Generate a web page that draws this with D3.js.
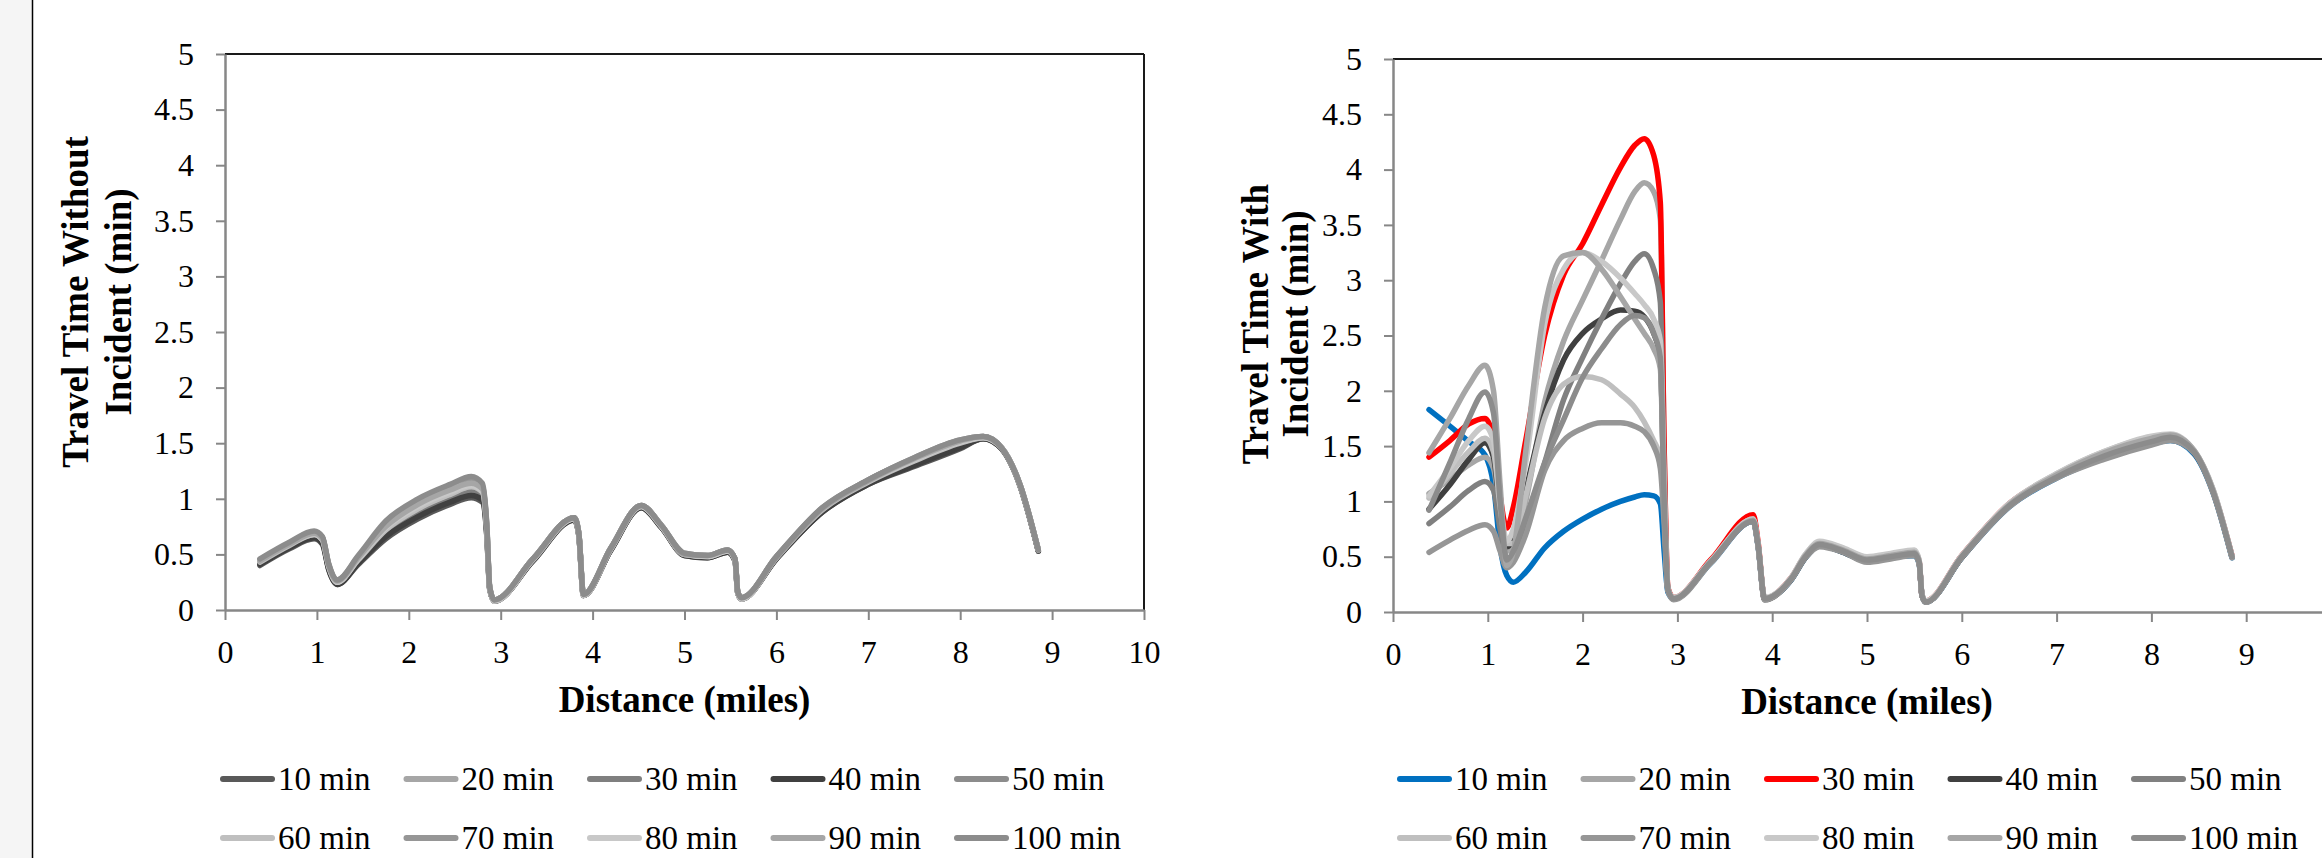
<!DOCTYPE html>
<html>
<head>
<meta charset="utf-8">
<script src="https://cdn.jsdelivr.net/npm/d3@7"></script>
<style>
  html, body { margin: 0; padding: 0; background: #ffffff; }
  svg { display: block; font-family: "Liberation Serif", "Times New Roman", serif; }
</style>
</head>
<body>
<svg id="chart" width="2322" height="858"></svg>
<script>
// ---- data -------------------------------------------------------------
const seriesNames = ["10 min", "20 min", "30 min", "40 min", "50 min",
                     "60 min", "70 min", "80 min", "90 min", "100 min"];
const yTickValues = [0, 0.5, 1, 1.5, 2, 2.5, 3, 3.5, 4, 4.5, 5];
const xTickValues = [0, 1, 2, 3, 4, 5, 6, 7, 8, 9, 10];

// distance samples (miles) for the no-incident runs
const distNoIncident = [0.38, 0.7, 0.97, 1.06, 1.13, 1.22, 1.45, 1.75, 2.1, 2.45, 2.68, 2.8, 2.85,
  2.88, 2.93, 3.35, 3.80, 3.85, 3.90, 4.2, 4.53, 4.75, 5.0, 5.25, 5.47, 5.55, 5.58, 5.62,
  6.0, 6.5, 7.0, 7.5, 8.0, 8.25, 8.45, 8.65, 8.85];

// travel time without incident (min)
const noIncident10 = [0.40,0.55,0.64,0.59,0.36,0.23,0.41,0.64,0.82,0.95,1.01,0.97,0.65, 0.19,0.08,0.44,0.81,0.67,0.13,0.54,0.92,0.74,0.49,0.47,0.52,0.44,0.15,0.10, 0.46,0.88,1.13,1.29,1.45,1.54,1.45,1.12,0.53];
const noIncident20 = [0.42,0.57,0.67,0.62,0.38,0.25,0.44,0.70,0.89,1.02,1.09,1.04,0.69, 0.20,0.08,0.45,0.82,0.68,0.13,0.55,0.93,0.75,0.50,0.48,0.53,0.45,0.15,0.10, 0.47,0.90,1.14,1.32,1.48,1.55,1.45,1.12,0.53];
const noIncident30 = [0.42,0.57,0.66,0.61,0.37,0.24,0.43,0.68,0.87,0.99,1.06,1.01,0.68, 0.20,0.08,0.45,0.82,0.68,0.13,0.55,0.93,0.75,0.50,0.48,0.53,0.45,0.15,0.10, 0.46,0.89,1.14,1.31,1.47,1.54,1.45,1.12,0.53];
const noIncident40 = [0.41,0.56,0.65,0.60,0.36,0.23,0.42,0.66,0.84,0.97,1.03,0.99,0.66, 0.19,0.08,0.44,0.81,0.67,0.13,0.54,0.92,0.74,0.49,0.47,0.52,0.44,0.15,0.10, 0.46,0.88,1.13,1.30,1.46,1.54,1.45,1.12,0.53];
const noIncident50 = [0.45,0.60,0.70,0.65,0.40,0.26,0.47,0.77,0.96,1.09,1.16,1.11,0.73, 0.20,0.09,0.46,0.83,0.69,0.14,0.56,0.94,0.76,0.50,0.49,0.54,0.46,0.16,0.11, 0.48,0.91,1.17,1.36,1.52,1.56,1.46,1.13,0.54];
const noIncident60 = [0.43,0.58,0.68,0.63,0.39,0.25,0.45,0.72,0.91,1.04,1.11,1.06,0.70, 0.20,0.08,0.45,0.82,0.68,0.13,0.55,0.93,0.75,0.50,0.48,0.53,0.45,0.15,0.10, 0.47,0.90,1.15,1.34,1.50,1.55,1.46,1.12,0.54];
const noIncident70 = [0.45,0.60,0.70,0.65,0.41,0.27,0.48,0.78,0.98,1.11,1.18,1.12,0.74, 0.21,0.09,0.46,0.83,0.69,0.14,0.56,0.94,0.76,0.51,0.49,0.54,0.46,0.16,0.11, 0.48,0.92,1.17,1.37,1.53,1.56,1.46,1.13,0.54];
const noIncident80 = [0.44,0.59,0.68,0.63,0.39,0.25,0.46,0.74,0.93,1.06,1.12,1.07,0.71, 0.20,0.08,0.45,0.82,0.68,0.13,0.55,0.93,0.75,0.50,0.48,0.53,0.45,0.15,0.10, 0.47,0.91,1.16,1.35,1.51,1.55,1.46,1.13,0.54];
const noIncident90 = [0.44,0.59,0.69,0.64,0.40,0.26,0.47,0.75,0.95,1.08,1.14,1.09,0.72, 0.20,0.09,0.46,0.83,0.69,0.14,0.56,0.94,0.76,0.50,0.49,0.54,0.46,0.16,0.11, 0.47,0.91,1.16,1.36,1.52,1.56,1.46,1.13,0.54];
const noIncident100 = [0.46,0.61,0.71,0.66,0.41,0.27,0.49,0.80,1.00,1.13,1.20,1.14,0.75, 0.21,0.09,0.46,0.83,0.69,0.14,0.56,0.94,0.76,0.51,0.49,0.54,0.46,0.16,0.11, 0.48,0.92,1.17,1.37,1.53,1.56,1.46,1.13,0.54];

// distance samples (miles) for the incident runs
const distWithIncident = [0.38, 0.6, 0.8, 0.97, 1.06, 1.13, 1.2, 1.27, 1.4, 1.6, 1.8, 2.0, 2.2, 2.4,
  2.55, 2.65, 2.75, 2.82, 2.86, 2.9, 2.96, 3.35, 3.80, 3.85, 3.92, 4.2, 4.35, 4.5, 4.75, 5.0,
  5.25, 5.5, 5.55, 5.58, 5.62, 6.0, 6.5, 7.0, 7.5, 8.0, 8.2, 8.45, 8.65, 8.85];

// travel time with incident (min), by incident duration
const withIncident10 = [1.83,1.68,1.54,1.42,1.15,0.59,0.33,0.27,0.36,0.58,0.73,0.84,0.93,1.00,1.04,1.06,1.05,0.98,0.55, 0.18,0.12,0.44,0.82,0.60,0.12,0.29,0.49,0.60,0.54,0.46,0.49,0.51,0.44,0.15,0.09,0.49,0.95,1.21,1.39,1.52,1.55,1.43,1.08,0.49];
const withIncident20 = [1.07,1.20,1.33,1.40,1.30,0.90,0.55,0.60,1.00,1.90,2.45,2.82,3.18,3.55,3.80,3.88,3.80,3.55,1.50, 0.20,0.12,0.45,0.84,0.62,0.12,0.30,0.50,0.61,0.55,0.47,0.50,0.53,0.45,0.15,0.09,0.50,0.97,1.23,1.42,1.55,1.58,1.45,1.10,0.50];
const withIncident30 = [1.40,1.55,1.70,1.75,1.58,1.05,0.76,0.95,1.55,2.50,3.05,3.33,3.68,4.02,4.22,4.28,4.13,3.70,1.50, 0.22,0.13,0.47,0.88,0.64,0.12,0.31,0.51,0.62,0.56,0.48,0.51,0.54,0.46,0.15,0.10,0.51,0.98,1.24,1.43,1.56,1.59,1.45,1.10,0.51];
const withIncident40 = [0.93,1.15,1.38,1.53,1.40,0.90,0.59,0.65,1.10,1.80,2.28,2.52,2.65,2.73,2.72,2.67,2.52,2.30,1.00, 0.20,0.12,0.45,0.83,0.61,0.11,0.29,0.49,0.60,0.54,0.46,0.49,0.52,0.45,0.15,0.09,0.49,0.96,1.22,1.40,1.53,1.57,1.44,1.09,0.50];
const withIncident50 = [0.80,0.95,1.10,1.18,1.10,0.75,0.48,0.50,0.80,1.35,1.92,2.30,2.65,2.97,3.17,3.24,3.10,2.80,1.20, 0.21,0.12,0.45,0.83,0.61,0.12,0.30,0.50,0.61,0.55,0.47,0.50,0.53,0.45,0.15,0.09,0.50,0.97,1.23,1.42,1.56,1.59,1.45,1.10,0.50];
const withIncident60 = [1.03,1.25,1.45,1.57,1.45,0.95,0.62,0.62,1.05,1.75,2.06,2.13,2.10,1.97,1.85,1.72,1.55,1.40,0.90, 0.20,0.13,0.46,0.84,0.62,0.13,0.31,0.52,0.63,0.57,0.49,0.52,0.55,0.47,0.16,0.10,0.51,0.98,1.25,1.45,1.58,1.60,1.46,1.11,0.51];
const withIncident70 = [0.54,0.65,0.74,0.79,0.73,0.55,0.40,0.45,0.70,1.28,1.55,1.66,1.71,1.71,1.68,1.63,1.50,1.30,0.80, 0.19,0.11,0.44,0.82,0.60,0.11,0.29,0.49,0.59,0.54,0.45,0.48,0.51,0.44,0.15,0.09,0.49,0.95,1.21,1.38,1.51,1.55,1.44,1.08,0.49];
const withIncident80 = [1.05,1.30,1.55,1.68,1.55,1.00,0.64,0.75,1.35,2.60,3.10,3.25,3.17,3.02,2.88,2.78,2.65,2.45,1.20, 0.21,0.13,0.46,0.84,0.62,0.13,0.31,0.52,0.64,0.58,0.50,0.53,0.56,0.47,0.16,0.10,0.51,0.98,1.25,1.45,1.59,1.61,1.46,1.11,0.51];
const withIncident90 = [1.44,1.75,2.05,2.23,2.00,1.15,0.42,0.55,1.45,2.75,3.22,3.25,3.10,2.85,2.65,2.52,2.38,2.20,1.00, 0.20,0.12,0.45,0.83,0.61,0.12,0.30,0.51,0.62,0.56,0.48,0.51,0.54,0.46,0.15,0.09,0.50,0.97,1.24,1.44,1.57,1.60,1.46,1.10,0.50];
const withIncident100 = [0.92,1.35,1.75,1.99,1.80,1.00,0.47,0.55,0.85,1.35,1.74,2.12,2.38,2.60,2.68,2.66,2.52,2.30,1.00, 0.20,0.12,0.45,0.82,0.61,0.12,0.30,0.50,0.61,0.55,0.47,0.50,0.53,0.45,0.15,0.09,0.50,0.96,1.22,1.41,1.54,1.58,1.45,1.09,0.50];

const noIncidentColors = ["#595959", "#a6a6a6", "#7f7f7f", "#404040", "#8c8c8c",
                          "#bfbfbf", "#969696", "#c8c8c8", "#a6a6a6", "#8c8c8c"];
const withIncidentColors = ["#0070c0", "#a6a6a6", "#ff0000", "#404040", "#808080",
                            "#bfbfbf", "#969696", "#c8c8c8", "#a6a6a6", "#8c8c8c"];

const noIncidentSeries = [noIncident10, noIncident20, noIncident30, noIncident40, noIncident50,
                          noIncident60, noIncident70, noIncident80, noIncident90, noIncident100];
const withIncidentSeries = [withIncident10, withIncident20, withIncident30, withIncident40, withIncident50,
                            withIncident60, withIncident70, withIncident80, withIncident90, withIncident100];

// ---- drawing ----------------------------------------------------------
const W = 2322;
const svg = d3.select("#chart");
const FONT_TICK = 32, FONT_TITLE = 37, FONT_LEGEND = 33;

// page margin strip on the far left
svg.append("rect").attr("x", 0).attr("y", 0).attr("width", 32).attr("height", 858).attr("fill", "#f5f5f5");
svg.append("line").attr("x1", 32.5).attr("x2", 32.5).attr("y1", 0).attr("y2", 858)
  .attr("stroke", "#000").attr("stroke-width", 1.5);

function drawPanel(p) {
  const x = d3.scaleLinear().domain([0, 10]).range([p.left, p.right]);
  const y = d3.scaleLinear().domain([0, 5]).range([p.bottom, p.top]);
  const g = svg.append("g");

  // plot frame (top and right edges)
  g.append("line").attr("x1", p.left).attr("x2", p.right).attr("y1", p.top).attr("y2", p.top)
    .attr("stroke", "#1a1a1a").attr("stroke-width", 2);
  g.append("line").attr("x1", p.right).attr("x2", p.right).attr("y1", p.top).attr("y2", p.bottom)
    .attr("stroke", "#1a1a1a").attr("stroke-width", 2);

  // series lines
  const line = d3.line()
    .x(d => x(d[0])).y(d => y(d[1]))
    .curve(d3.curveMonotoneX);
  p.series.forEach((vals, i) => {
    const pts = p.dist.map((dx, j) => [dx, vals[j]]);
    g.append("path").datum(pts)
      .attr("d", line)
      .attr("fill", "none")
      .attr("stroke", p.colors[i])
      .attr("stroke-width", 5.5)
      .attr("stroke-linejoin", "round")
      .attr("stroke-linecap", "round");
  });

  // axes (only label the ticks that fall inside the page)
  const visibleX = xTickValues.filter(v => x(v) <= W);
  const yAxis = d3.axisLeft(y).tickValues(yTickValues).tickSize(9).tickSizeOuter(0).tickPadding(22)
    .tickFormat(d3.format("~g"));
  const xAxis = d3.axisBottom(x).tickValues(visibleX).tickSize(10).tickSizeOuter(0).tickPadding(20)
    .tickFormat(d3.format("d"));
  const ya = g.append("g").attr("transform", `translate(${p.left},0)`).call(yAxis);
  const xa = g.append("g").attr("transform", `translate(0,${p.bottom})`).call(xAxis);
  [ya, xa].forEach(a => {
    a.select(".domain").attr("stroke", "#878787").attr("stroke-width", 2.5);
    a.selectAll(".tick line").attr("stroke", "#878787").attr("stroke-width", 2);
    a.selectAll(".tick text").attr("fill", "#000").style("font-size", FONT_TICK + "px")
      .style("font-family", '"Liberation Serif", "Times New Roman", serif');
  });

  // y-axis title (two lines, rotated)
  p.yTitle.forEach((t, i) => {
    g.append("text")
      .attr("transform", `translate(${p.yTitleX[i]},${p.yTitleY}) rotate(-90)`)
      .attr("text-anchor", "middle")
      .style("font-size", FONT_TITLE + "px").style("font-weight", "bold")
      .text(t);
  });

  // x-axis title
  g.append("text")
    .attr("x", (p.left + p.right) / 2).attr("y", p.xTitleY)
    .attr("text-anchor", "middle")
    .style("font-size", FONT_TITLE + "px").style("font-weight", "bold")
    .text("Distance (miles)");

  // legend: two rows of five
  seriesNames.forEach((name, i) => {
    const col = i % 5, row = Math.floor(i / 5);
    const lx = p.legendX + col * 183.5;
    const ly = p.legendY[row];
    g.append("line").attr("x1", lx + 3).attr("x2", lx + 52).attr("y1", ly).attr("y2", ly)
      .attr("stroke", p.colors[i]).attr("stroke-width", 6).attr("stroke-linecap", "round");
    g.append("text").attr("x", lx + 58).attr("y", ly).attr("dy", "0.34em")
      .style("font-size", FONT_LEGEND + "px").text(name);
  });
}

drawPanel({
  left: 225, right: 1144, top: 54, bottom: 610,
  dist: distNoIncident, series: noIncidentSeries, colors: noIncidentColors,
  yTitle: ["Travel Time Without", "Incident (min)"], yTitleX: [88, 131], yTitleY: 302,
  xTitleY: 712, legendX: 220, legendY: [779, 838]
});

drawPanel({
  left: 1393, right: 2341, top: 59, bottom: 612,
  dist: distWithIncident, series: withIncidentSeries, colors: withIncidentColors,
  yTitle: ["Travel Time With", "Incident (min)"], yTitleX: [1268, 1308], yTitleY: 324,
  xTitleY: 714, legendX: 1397, legendY: [779, 838]
});
</script>
</body>
</html>
